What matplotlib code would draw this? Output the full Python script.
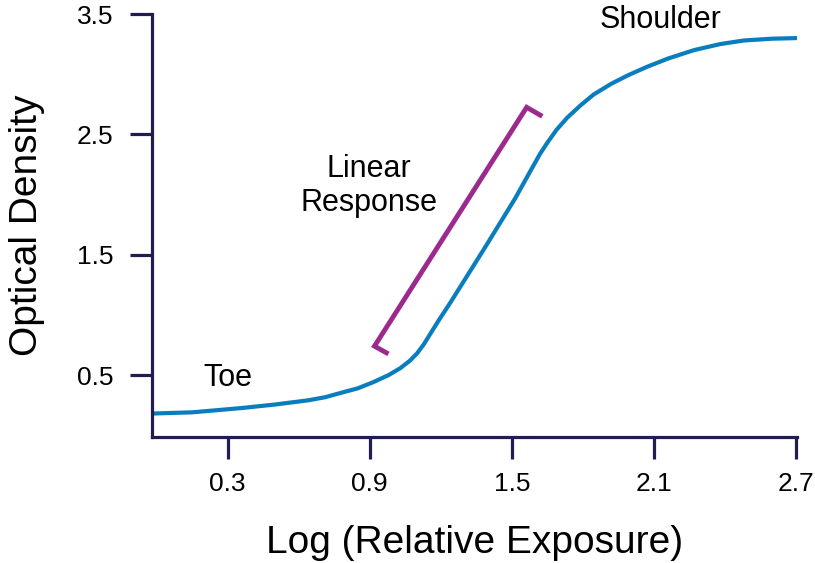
import matplotlib
matplotlib.use("Agg")
import matplotlib.pyplot as plt

plt.rcParams["font.family"] = ["Liberation Sans", "DejaVu Sans"]

# courbe caractéristique
log_exposure = [-0.02, 0.15, 0.355, 0.5, 0.64, 0.71, 0.775, 0.85, 0.914, 0.98,
                1.029, 1.07, 1.10, 1.13, 1.155, 1.19, 1.24, 1.39, 1.515, 1.58,
                1.62, 1.65, 1.69, 1.735, 1.79, 1.845, 1.92, 1.99, 2.07, 2.16,
                2.27, 2.38, 2.48, 2.6, 2.705]
density = [0.18, 0.19, 0.225, 0.255, 0.29, 0.315, 0.35, 0.39, 0.44, 0.50,
           0.557, 0.62, 0.68, 0.76, 0.84, 0.95, 1.10, 1.57, 1.97, 2.20,
           2.34, 2.43, 2.54, 2.64, 2.74, 2.83, 2.92, 2.99, 3.06, 3.13,
           3.20, 3.25, 3.28, 3.295, 3.30]

# crochet "Linear Response"
bracket_x = [0.97, 0.92, 1.563, 1.62]
bracket_y = [0.685, 0.74, 2.725, 2.66]

x_ticks = [0.3, 0.9, 1.5, 2.1, 2.7]
y_ticks = [0.5, 1.5, 2.5, 3.5]

navy = "#211d4e"
blue = "#0a7dbf"
purple = "#9c2a8e"

fig = plt.figure(figsize=(8.15, 5.63), dpi=100)
ax = fig.add_axes([0.1865, 0.2238, 0.7914, 0.7513])

ax.plot(log_exposure, density, color=blue, lw=3, solid_capstyle="butt",
        solid_joinstyle="round")
ax.plot(bracket_x, bracket_y, color=purple, lw=3.5, solid_joinstyle="miter")

ax.text(0.30, 0.475, "Toe", fontsize=22, ha="center", va="center")
ax.text(0.898, 2.07, "Linear\nResponse", fontsize=22, ha="center", va="center",
        linespacing=1.15)
ax.text(2.13, 3.45, "Shoulder", fontsize=22, ha="center", va="center")

ax.set_xlim(-0.02, 2.705)
ax.set_ylim(-0.015, 3.5)
ax.set_xticks(x_ticks)
ax.set_xticklabels([f"{v:.1f}" for v in x_ticks])
ax.set_yticks(y_ticks)
ax.set_yticklabels([f"{v:.1f}" for v in y_ticks])

for side in ["top", "right"]:
    ax.spines[side].set_visible(False)
for side in ["left", "bottom"]:
    ax.spines[side].set_color(navy)
    ax.spines[side].set_linewidth(2.3)

ax.tick_params(axis="both", direction="out", length=16, width=2.3, color=navy,
               labelsize=19)
ax.tick_params(axis="x", pad=9)
ax.tick_params(axis="y", pad=12)

ax.set_xlabel("Log (Relative Exposure)", fontsize=28, va="center")
ax.set_ylabel("Optical Density", fontsize=28, va="center")
ax.xaxis.set_label_coords(0.5, -0.25)
ax.yaxis.set_label_coords(-0.194, 0.5)

fig.savefig("out.png", dpi=100)
